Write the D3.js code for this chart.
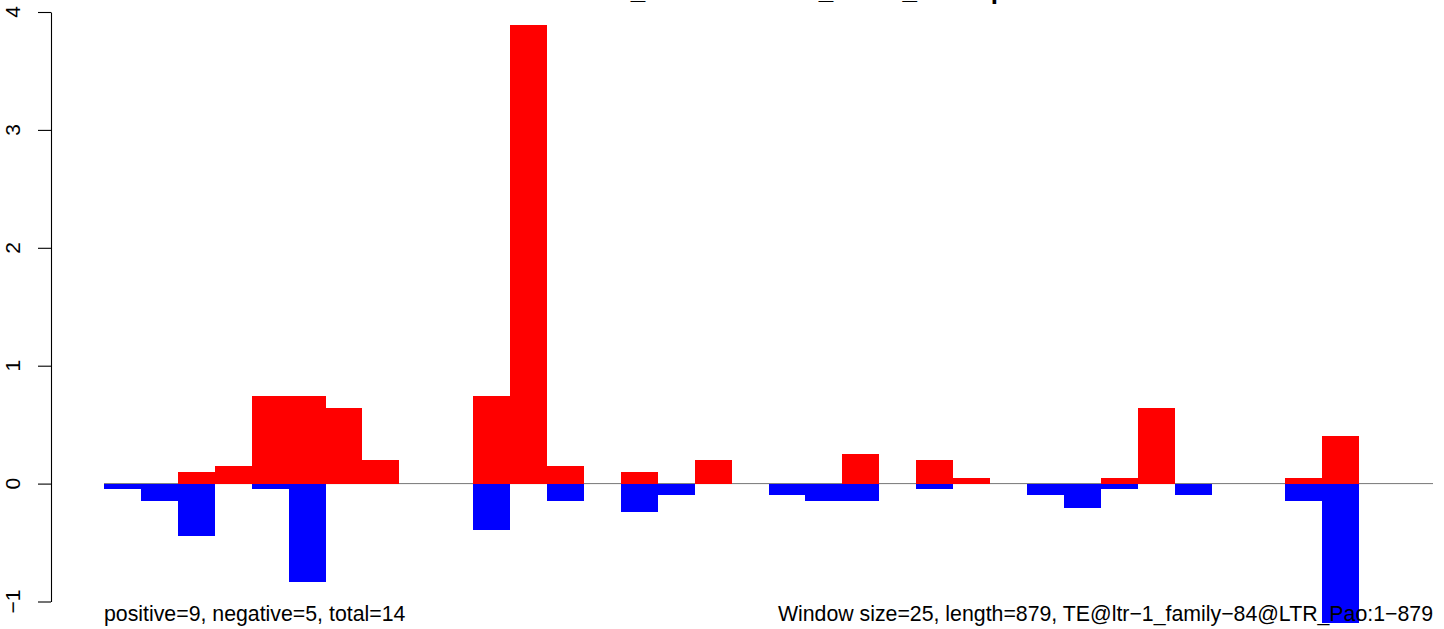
<!DOCTYPE html>
<html>
<head>
<meta charset="utf-8">
<script src="https://cdn.jsdelivr.net/npm/d3@7"></script>
<style>
  html, body { margin: 0; padding: 0; background: #fff; }
  svg { display: block; font-family: "Liberation Sans", Arial, Helvetica, sans-serif; }
</style>
</head>
<body>
<svg id="chart" width="1444" height="629"></svg>
<script>
// ---- data ----
const windowStart = [0,25,50,75,100,125,150,175,200,225,250,275,300,325,350,375,400,425,
                     450,475,500,525,550,575,600,625,650,675,700,725,750,775,800,825,850,875];
const windowSize = 25;
const seqEnd = 900;
const positiveValues = [0,0,0.10,0.15,0.745,0.745,0.64,0.20,0,0,0.745,3.89,0.15,0,0.10,0,0.20,0,
                        0,0,0.25,0,0.20,0.05,0,0,0,0.05,0.64,0,0,0,0.05,0.40,0,0];
const negativeValues = [-0.045,-0.15,-0.445,0,-0.045,-0.835,0,0,0,0,-0.395,0,-0.15,0,-0.24,-0.095,0,0,
                        -0.095,-0.15,-0.15,0,-0.045,0,0,-0.10,-0.205,-0.05,0,-0.10,0,0,-0.15,-1.18,0,0];
const yTicks = [-1, 0, 1, 2, 3, 4];
const yTickLabels = ["\u22121", "0", "1", "2", "3", "4"];
const titleText = "H3K27me3_TEenrichment_score_Rootsprofile";
const leftNote = "positive=9, negative=5, total=14";
const rightNote = "Window size=25, length=879, TE@ltr\u22121_family\u221284@LTR_Pao:1\u2212879";

// ---- layout ----
const svg = d3.select("#chart");
const x = d3.scaleLinear().domain([0, seqEnd]).range([104, 1433]);
const y = d3.scaleLinear().domain([-1, 4]).range([601.5, 12]);
const axisX = 51;

// zero line
svg.append("line")
  .attr("x1", x(0)).attr("x2", x(seqEnd))
  .attr("y1", y(0)).attr("y2", y(0))
  .attr("stroke", "#777").attr("stroke-width", 1);

const bars = windowStart.map((s, i) => ({ s, pos: positiveValues[i], neg: negativeValues[i] }));

svg.append("g").selectAll("rect")
  .data(bars.filter(d => d.pos > 0))
  .join("rect")
  .attr("x", d => x(d.s))
  .attr("width", d => x(d.s + windowSize) - x(d.s))
  .attr("y", d => y(d.pos))
  .attr("height", d => y(0) - y(d.pos))
  .attr("fill", "#FF0000")
  .attr("shape-rendering", "crispEdges");

svg.append("g").selectAll("rect")
  .data(bars.filter(d => d.neg < 0))
  .join("rect")
  .attr("x", d => x(d.s))
  .attr("width", d => x(d.s + windowSize) - x(d.s))
  .attr("y", y(0))
  .attr("height", d => y(d.neg) - y(0))
  .attr("fill", "#0000FF")
  .attr("shape-rendering", "crispEdges");

// y axis
const yAxis = d3.axisLeft(y).tickValues(yTicks).tickSize(13).tickSizeOuter(0).tickFormat("");
const gAxis = svg.append("g").attr("transform", `translate(${axisX},0)`).call(yAxis);
gAxis.select(".domain").attr("stroke", "#000").attr("stroke-width", 1.1);
gAxis.selectAll(".tick line").attr("stroke", "#000").attr("stroke-width", 1.1);

svg.append("g").selectAll("text")
  .data(yTicks)
  .join("text")
  .attr("transform", d => `translate(${axisX - 31},${y(d)}) rotate(-90)`)
  .attr("text-anchor", "middle")
  .attr("font-size", 21)
  .attr("fill", "#000")
  .text((d, i) => yTickLabels[i]);

// title (mostly cut off at the top, as in the reference)
svg.append("text")
  .attr("x", 784).attr("y", -1)
  .attr("text-anchor", "middle")
  .attr("font-size", 26)
  .attr("font-weight", "bold")
  .attr("fill", "#000")
  .text(titleText);

// notes
svg.append("text")
  .attr("x", x(0)).attr("y", 621)
  .attr("font-size", 21.3).attr("fill", "#000")
  .text(leftNote);
svg.append("text")
  .attr("x", x(seqEnd)).attr("y", 621)
  .attr("text-anchor", "end")
  .attr("font-size", 21.3).attr("fill", "#000")
  .text(rightNote);
</script>
</body>
</html>
